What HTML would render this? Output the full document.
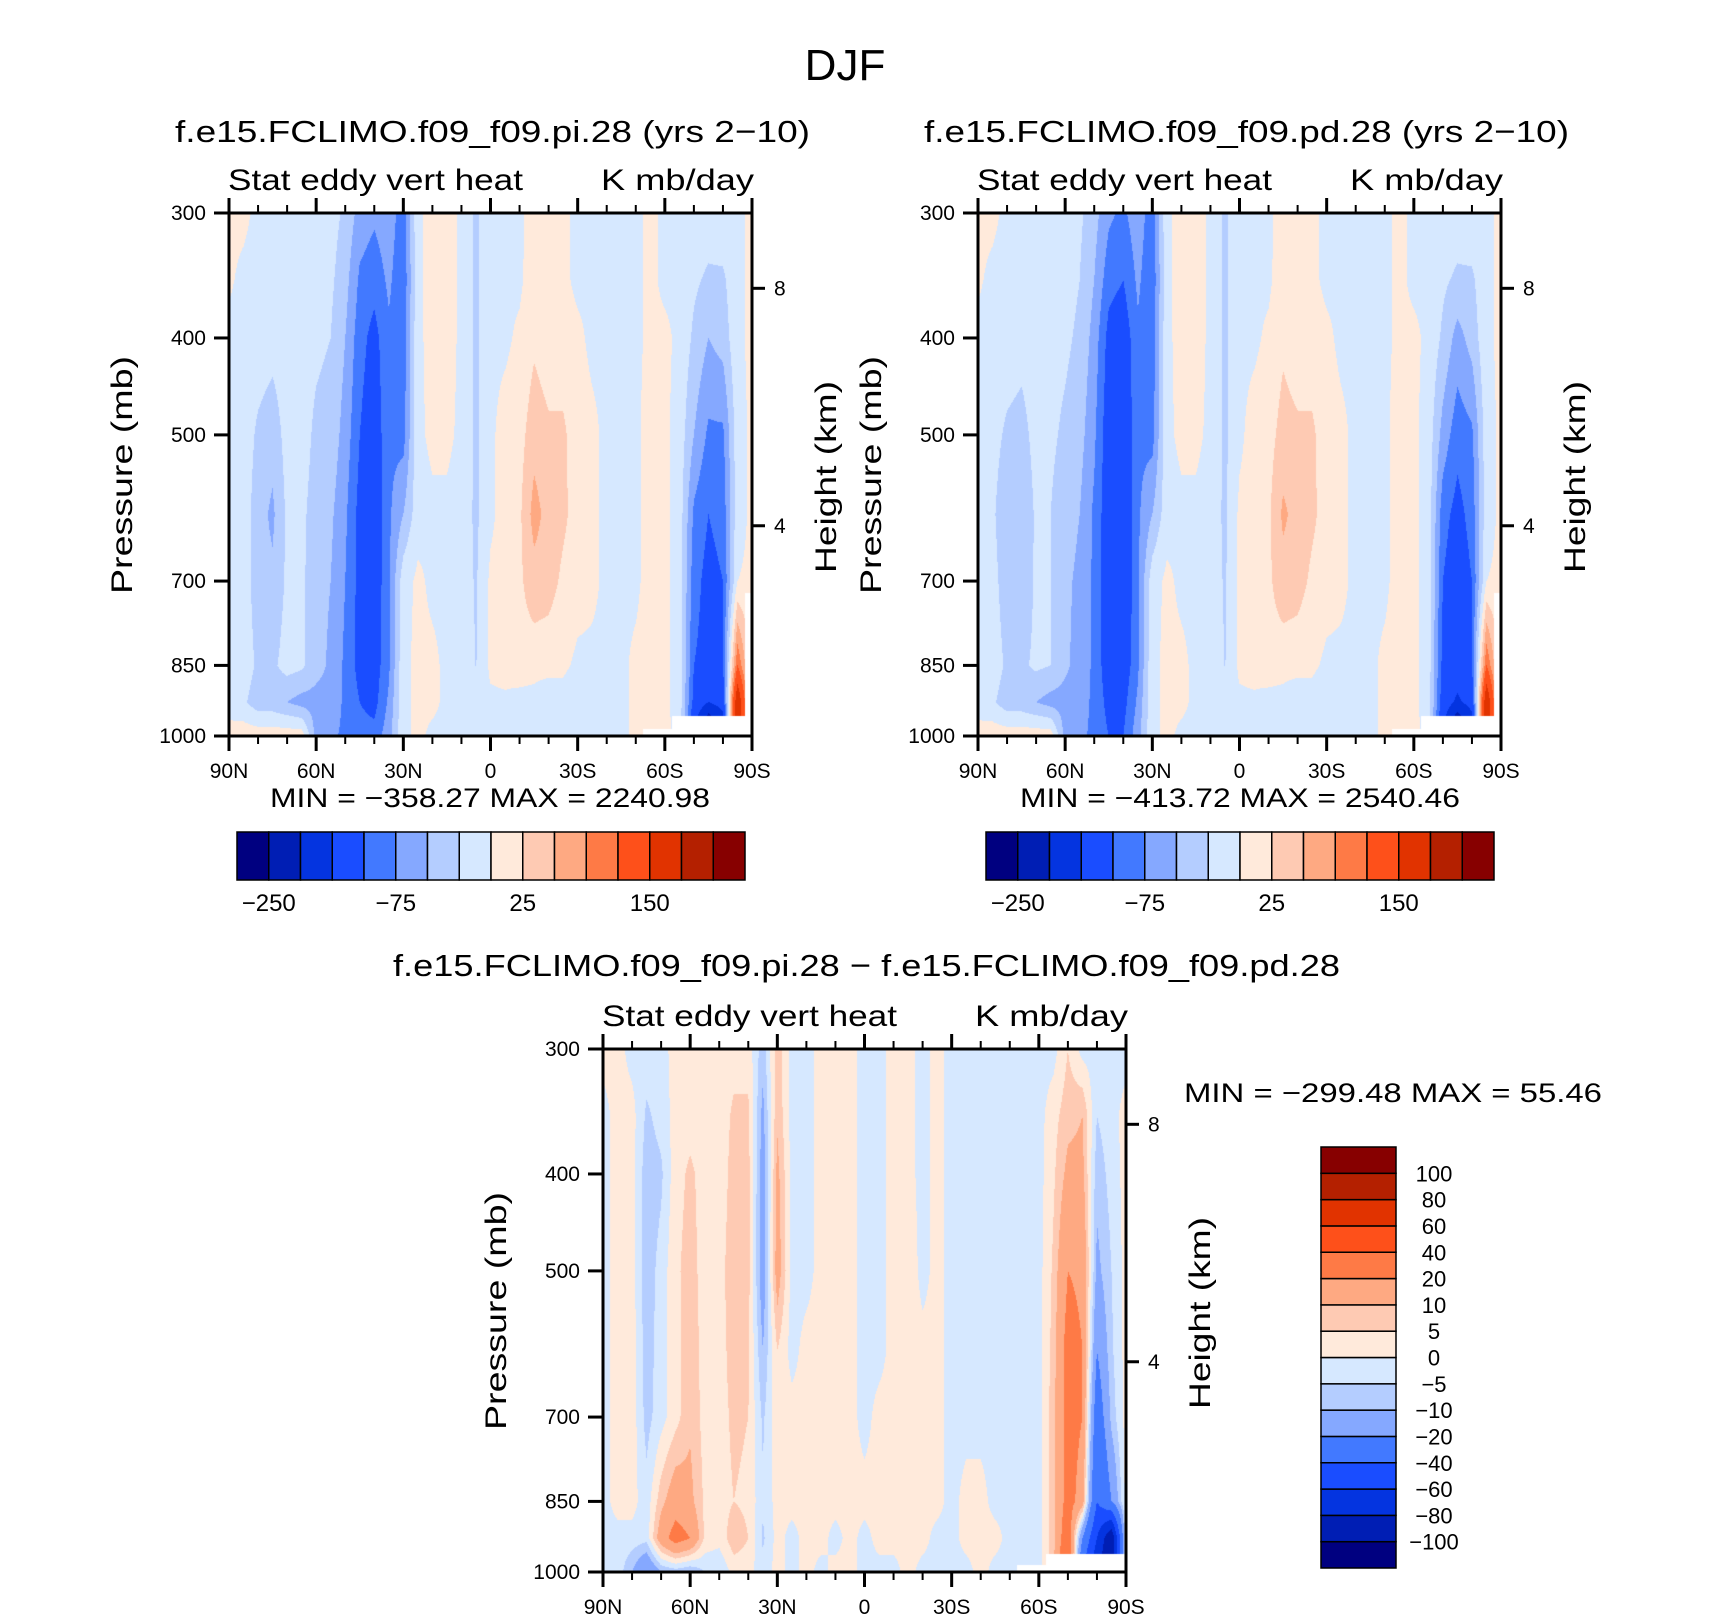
<!DOCTYPE html>
<html><head><meta charset="utf-8">
<style>
html,body{margin:0;padding:0;background:#fff;}
#wrap{position:relative;width:1710px;height:1621px;overflow:hidden;background:#fff;}
canvas{position:absolute;}
svg{position:absolute;left:0;top:0;}
text{font-family:"Liberation Sans",sans-serif;fill:#000;}
</style></head>
<body>
<div id="wrap">
<canvas id="cv-pi" width="523" height="523" style="left:229px;top:213px"></canvas>
<canvas id="cv-pd" width="523" height="523" style="left:978px;top:213px"></canvas>
<canvas id="cv-diff" width="523" height="523" style="left:603px;top:1049px"></canvas>
<svg id="svg" width="1710" height="1621" xmlns="http://www.w3.org/2000/svg">
<text x="845" y="80" font-size="44" text-anchor="middle">DJF</text>
<text x="175" y="142" font-size="31" textLength="635" lengthAdjust="spacingAndGlyphs">f.e15.FCLIMO.f09_f09.pi.28 (yrs 2−10)</text>
<text x="924" y="142" font-size="31" textLength="645" lengthAdjust="spacingAndGlyphs">f.e15.FCLIMO.f09_f09.pd.28 (yrs 2−10)</text>
<text x="393" y="976" font-size="31" textLength="947" lengthAdjust="spacingAndGlyphs">f.e15.FCLIMO.f09_f09.pi.28 − f.e15.FCLIMO.f09_f09.pd.28</text>
<text x="270" y="807" font-size="27" textLength="440" lengthAdjust="spacingAndGlyphs">MIN = −358.27   MAX = 2240.98</text>
<text x="1020" y="807" font-size="27" textLength="440" lengthAdjust="spacingAndGlyphs">MIN = −413.72   MAX = 2540.46</text>
<text x="1184" y="1102" font-size="27" textLength="418" lengthAdjust="spacingAndGlyphs">MIN = −299.48   MAX =   55.46</text>
</svg>
</div>
<script>
// ---------- data ----------
const lats = [90,85,80,75,70,65,60,55,50,45,40,35,30,25,20,15,10,5,0,-5,-10,-15,-20,-25,-30,-35,-40,-45,-50,-55,-60,-65,-70,-75,-80,-85,-90];
const levels = [300,350,400,500,600,700,850,925,1000];
const piField = [
[5,3,-5,-5,-5,-5,-5,-5,5],
[5,-5,-10,-10,-10,-10,-10,-20,15],
[-5,-10,-10,-30,-40,-40,-30,-40,15],
[-5,-10,-15,-40,-55,-45,-30,-40,15],
[-5,-10,-10,-15,-20,-20,-15,-50,15],
[-10,-10,-15,-15,-20,-20,-20,-60,15],
[-10,-15,-20,-30,-35,-40,-40,-60,-60],
[-15,-20,-25,-35,-45,-50,-55,-60,-70],
[-30,-40,-50,-60,-70,-75,-80,-80,-80],
[-60,-80,-90,-100,-110,-110,-110,-100,-90],
[-70,-90,-110,-120,-120,-120,-115,-110,-90],
[-60,-70,-80,-80,-80,-80,-80,-70,-60],
[-90,-95,-90,-85,-50,-10,-5,-5,-5],
[-5,-5,-5,-5,-10,5,5,5,5],
[10,10,8,5,-5,-5,5,5,-5],
[10,10,10,5,-5,-5,-5,-5,-5],
[-5,-5,-5,-5,-10,-10,-5,-5,-5],
[-30,-30,-30,-30,-30,-28,-26,-5,-5],
[-5,-5,-5,-5,-5,5,5,-5,-5],
[-5,-5,-5,10,10,10,10,-5,-5],
[-5,-5,5,15,20,20,15,-10,-5],
[10,15,20,40,60,40,10,-10,-5],
[5,5,10,30,40,35,10,-20,-5],
[5,5,10,30,30,20,5,-10,-5],
[-5,-5,5,10,15,10,-5,-20,-5],
[-5,-5,-5,5,5,5,-5,-5,-5],
[-5,-5,-5,-5,-5,-5,-5,-5,-5],
[-5,-5,-5,-5,-5,-5,-5,-5,-5],
[-5,-5,-5,-5,-5,-5,5,5,5],
[5,5,5,10,10,10,10,10,10],
[-5,-5,5,5,5,5,5,5,5],
[-5,-5,-5,-10,-10,-10,-10,-10,-5],
[-5,-20,-30,-50,-80,-90,-100,-110,-150],
[-10,-30,-50,-80,-100,-110,-110,-150,-300],
[-5,-30,-40,-80,-90,-100,-100,-130,-200],
[-5,-5,-5,-10,-10,0,100,200,200],
[5,5,5,5,5,5,5,5,5]
];
const pdField = [
[5,3,-5,-5,-5,-5,-5,-5,5],
[5,-5,-10,-15,-20,-15,-10,-20,15],
[-5,-10,-10,-30,-45,-40,-30,-40,15],
[-5,-10,-15,-35,-50,-45,-30,-40,15],
[-5,-10,-10,-15,-20,-20,-20,-50,15],
[-10,-10,-15,-20,-25,-25,-25,-60,15],
[-10,-15,-20,-30,-40,-45,-45,-60,-60],
[-20,-25,-30,-40,-50,-55,-60,-65,-70],
[-40,-50,-60,-70,-80,-80,-80,-80,-80],
[-70,-90,-110,-120,-120,-120,-120,-110,-100],
[-80,-100,-120,-130,-130,-130,-120,-110,-100],
[-60,-70,-80,-80,-80,-80,-80,-70,-60],
[-90,-95,-90,-85,-50,-10,-5,-5,-5],
[-5,-5,-5,-5,-10,5,5,5,5],
[10,10,8,5,-5,-5,5,5,-5],
[10,10,10,5,-5,-5,-5,-5,-5],
[-5,-5,-5,-5,-10,-10,-5,-5,-5],
[-30,-30,-30,-30,-30,-28,-26,-5,-5],
[-5,-5,-5,-5,5,5,5,-5,-5],
[-5,-5,-5,10,10,10,10,-5,-5],
[-5,-5,5,15,20,20,15,-10,-5],
[10,15,20,35,55,40,10,-10,-5],
[5,5,10,30,40,35,10,-20,-5],
[5,5,10,30,30,20,5,-10,-5],
[-5,-5,5,10,15,10,-5,-20,-5],
[-5,-5,-5,5,5,5,-5,-5,-5],
[-5,-5,-5,-5,-5,-5,-5,-5,-5],
[-5,-5,-5,-5,-5,-5,-5,-5,-5],
[-5,-5,-5,-5,-5,-5,5,5,5],
[5,5,5,10,10,10,10,10,10],
[-5,-5,5,5,5,5,5,5,5],
[-5,-5,-5,-10,-10,-10,-10,-10,-5],
[-5,-20,-30,-60,-90,-100,-110,-120,-150],
[-10,-30,-60,-90,-110,-120,-120,-160,-300],
[-5,-30,-40,-80,-90,-100,-100,-130,-200],
[-5,-5,-5,-10,-10,0,100,200,200],
[5,5,5,5,5,5,5,5,5]
];
const diffField = [
[2,-2,-2,-2,-2,-2,-2,-2,-2],
[2,2,2,2,2,2,2,-2,-2],
[-2,2,2,2,3,3,2,-2,-10],
[-2,-6,-8,-8,-8,-7,-3,-3,-20],
[-2,-3,-6,-3,-2,-2,8,15,-10],
[2,2,3,4,3,3,15,25,-8],
[2,3,6,7,8,9,12,20,-10],
[2,2,3,3,3,3,4,4,-5],
[2,2,2,3,3,3,3,2,-5],
[3,6,7,8,7,6,5,8,2],
[3,6,7,7,6,5,4,5,2],
[-8,-12,-14,-15,-10,-6,-4,-6,-3],
[8,9,12,14,5,3,2,2,2],
[-2,-2,-2,-2,-2,2,2,-2,-2],
[-2,-2,-2,-2,2,2,2,2,2],
[2,2,2,2,2,2,2,2,-2],
[2,2,2,2,2,2,2,-2,2],
[2,2,2,2,2,2,2,2,2],
[-2,-2,-2,-2,-2,-2,2,-2,-2],
[-2,-2,-2,-2,-2,2,2,2,-2],
[2,2,2,2,2,2,2,2,-2],
[2,2,2,4,3,2,2,2,2],
[-2,-2,-2,-2,2,2,2,2,-2],
[2,2,2,2,2,2,2,-2,-2],
[-2,-2,-2,-2,-2,-2,-2,-2,-2],
[-2,-2,-2,-2,-2,-2,2,2,-2],
[-2,-2,-2,-2,-2,-2,2,2,2],
[-2,-2,-2,-2,-2,-2,-2,2,-2],
[-2,-2,-2,-2,-2,-2,-2,-2,-2],
[-2,-2,-2,-2,-2,-2,-2,-2,-2],
[-2,-2,-2,-2,-2,-2,-2,-2,-2],
[-2,3,4,6,7,8,8,8,8],
[5,8,12,20,25,25,25,30,40],
[-2,10,12,18,20,20,15,-20,-40],
[-2,-5,-8,-12,-20,-30,-40,-60,-80],
[-2,-2,-3,-5,-6,-8,-20,-100,-100],
[-2,2,2,2,2,2,2,2,2]
];
const psfcTop = [1100,1100,1100,1100,1100,1100,1100,1100,1100,1100,1100,1100,1100,1100,1100,1100,1100,1100,1100,1100,1100,1100,1100,1100,1100,1100,1100,1100,1100,985,985,955,955,955,955,955,720];
const psfcDiff = [1100,1100,1100,1100,1100,1100,1100,1100,1100,1100,1100,1100,1100,1100,1100,1100,1100,1100,1100,1100,1100,1100,1100,1100,1100,1100,1100,1100,1100,985,985,960,960,960,960,960,960];
const topBounds = [-250,-200,-150,-100,-75,-50,-25,0,25,50,75,100,150,200,250];
const diffBounds = [-100,-80,-60,-40,-20,-10,-5,0,5,10,20,40,60,80,100];
const palette = ["#000080","#001eb4","#0434e0","#1a4dff","#4279ff","#85a8ff","#b4cdff","#d6e8ff","#ffeadb","#fecab3","#fea982","#fe7a46","#fe501a","#e13300","#b42000","#870000"];
const topCbLabels = ["−250","−75","25","150"];
const topCbLabelIdx = [1,5,9,13];
const diffCbLabels = ["100","80","60","40","20","10","5","0","−5","−10","−20","−40","−60","−80","−100"];
const latTickLabels = ["90N","60N","30N","0","30S","60S","90S"];
const latTickValues = [90,60,30,0,-30,-60,-90];
const presTickValues = [300,400,500,700,850,1000];
const heightTickValues = [8,4];
const heightTickFrac = [0.144,0.598];

// ---------- axis functions ----------
const PW = 523, PH = 523;
const LP0 = Math.log(300), LP1 = Math.log(1000);
function xOfLat(lat){ return (90 - lat) / 180 * PW; }
function yOfP(p){ return (Math.log(p) - LP0) / (LP1 - LP0) * PH; }
function latOfX(x){ return 90 - x / PW * 180; }
function pOfY(y){ return Math.exp(LP0 + y / PH * (LP1 - LP0)); }

function sample(field, lat, p){
  let c = (lats[0] - lat) / 5;
  let i0 = Math.max(0, Math.min(lats.length - 2, Math.floor(c)));
  let tc = c - i0;
  let lp = Math.log(p);
  let j0 = 0;
  while (j0 < levels.length - 2 && p > levels[j0 + 1]) j0++;
  let tr = (lp - Math.log(levels[j0])) / (Math.log(levels[j0 + 1]) - Math.log(levels[j0]));
  tr = Math.max(0, Math.min(1, tr));
  const a = field[i0][j0] * (1 - tr) + field[i0][j0 + 1] * tr;
  const b = field[i0 + 1][j0] * (1 - tr) + field[i0 + 1][j0 + 1] * tr;
  return a * (1 - tc) + b * tc;
}
function hexToRgb(h){ return [parseInt(h.substr(1,2),16),parseInt(h.substr(3,2),16),parseInt(h.substr(5,2),16)]; }
const palRgb = palette.map(hexToRgb);

function drawField(id, field, psfc, bounds){
  const cv = document.getElementById(id);
  const ctx = cv.getContext('2d');
  const img = ctx.createImageData(PW, PH);
  for (let py = 0; py < PH; py++){
    const p = pOfY(py + 0.5);
    for (let px = 0; px < PW; px++){
      const lat = latOfX(px + 0.5);
      const ci = Math.round((lats[0] - lat) / 5);
      let rgb;
      if (p > psfc[ci]) rgb = [255,255,255];
      else {
        const v = sample(field, lat, p);
        let k = 0; while (k < bounds.length && v >= bounds[k]) k++;
        rgb = palRgb[k];
      }
      const o = (py * PW + px) * 4;
      img.data[o] = rgb[0]; img.data[o+1] = rgb[1]; img.data[o+2] = rgb[2]; img.data[o+3] = 255;
    }
  }
  ctx.putImageData(img, 0, 0);
}

const NS = "http://www.w3.org/2000/svg";
const svg = document.getElementById('svg');
function mk(tag, attrs){
  const el = document.createElementNS(NS, tag);
  for (const k in attrs) el.setAttribute(k, attrs[k]);
  svg.appendChild(el);
  return el;
}
function line(x1,y1,x2,y2,w){ return mk('line',{x1:x1,y1:y1,x2:x2,y2:y2,stroke:'#000','stroke-width':w}); }
function txt(x,y,s,size,anchor,extra){
  const el = mk('text', Object.assign({x:x,y:y,'font-size':size,'text-anchor':anchor||'start'}, extra||{}));
  el.textContent = s;
  return el;
}

function drawAxes(ox, oy, key){
  const fr = mk('rect',{x:ox,y:oy,width:PW,height:PH,fill:'none',stroke:'#000','stroke-width':3});
  
  
  for (let lat = 90; lat >= -90; lat -= 10){
    const x = ox + xOfLat(lat);
    const major = (lat % 30 === 0);
    const L = major ? 15 : 8;
    const t1 = line(x, oy + PH, x, oy + PH + L, major ? 3 : 2);
    
    
    const t2 = line(x, oy, x, oy - L, major ? 3 : 2);
    
    
  }
  latTickValues.forEach((lat, i) => {
    const t = txt(ox + xOfLat(lat), oy + PH + 42, latTickLabels[i], 21, 'middle');
    
    
  });
  presTickValues.forEach(p => {
    const y = oy + yOfP(p);
    const t = line(ox - 15, y, ox, y, 3);
    
    
    const l = txt(ox - 23, y + 7, String(p), 21, 'end');
    
    
  });
  heightTickValues.forEach((h, i) => {
    const y = oy + heightTickFrac[i] * PH;
    const t = line(ox + PW, y, ox + PW + 13, y, 3);
    
    
    const l = txt(ox + PW + 22, y + 7, String(h), 21, 'start');
    
    
  });
  const s1 = txt(ox - 1, oy - 23, 'Stat eddy vert heat', 30, 'start', {textLength: 295, lengthAdjust: 'spacingAndGlyphs'});
  
  
  const s2 = txt(ox + PW + 2, oy - 23, 'K mb/day', 30, 'end', {textLength: 153, lengthAdjust: 'spacingAndGlyphs'});
  
  
  const yl = txt(0, 0, 'Pressure (mb)', 30, 'middle', {transform: 'translate(' + (ox - 97) + ',' + (oy + 262) + ') rotate(-90)', textLength: 238, lengthAdjust: 'spacingAndGlyphs'});
  
  
  const hl = txt(0, 0, 'Height (km)', 30, 'middle', {transform: 'translate(' + (ox + PW + 84) + ',' + (oy + 264) + ') rotate(-90)', textLength: 192, lengthAdjust: 'spacingAndGlyphs'});
  
  
}

function drawHBar(x0, y0, w, h, key){
  const bw = w / palette.length;
  palette.forEach((c, i) => {
    const r = mk('rect',{x:x0 + i*bw, y:y0, width:bw, height:h, fill:c, stroke:'#000','stroke-width':1.5});
    
    
  });
  topCbLabels.forEach((s, i) => {
    const t = txt(x0 + topCbLabelIdx[i]*bw, y0 + h + 31, s, 24, 'middle');
    
    
  });
}
function drawVBar(x0, y0, w, h){
  const bh = h / palette.length;
  palette.forEach((c, i) => {
    const r = mk('rect',{x:x0, y:y0 + (palette.length-1-i)*bh, width:w, height:bh, fill:c, stroke:'#000','stroke-width':1.5});
    
    
  });
  diffCbLabels.forEach((s, i) => {
    const t = txt(x0 + w + 38, y0 + (i+1)*bh + 8, s, 22, 'middle');
    
    
  });
}

drawField('cv-pi', piField, psfcTop, topBounds);
drawField('cv-pd', pdField, psfcTop, topBounds);
drawField('cv-diff', diffField, psfcDiff, diffBounds);
drawAxes(229, 213, 'pi');
drawAxes(978, 213, 'pd');
drawAxes(603, 1049, 'difference');
drawHBar(237, 832, 508, 48, 'pi');
drawHBar(986, 832, 508, 48, 'pd');
drawVBar(1321, 1147, 75, 421);
</script>
</body></html>
